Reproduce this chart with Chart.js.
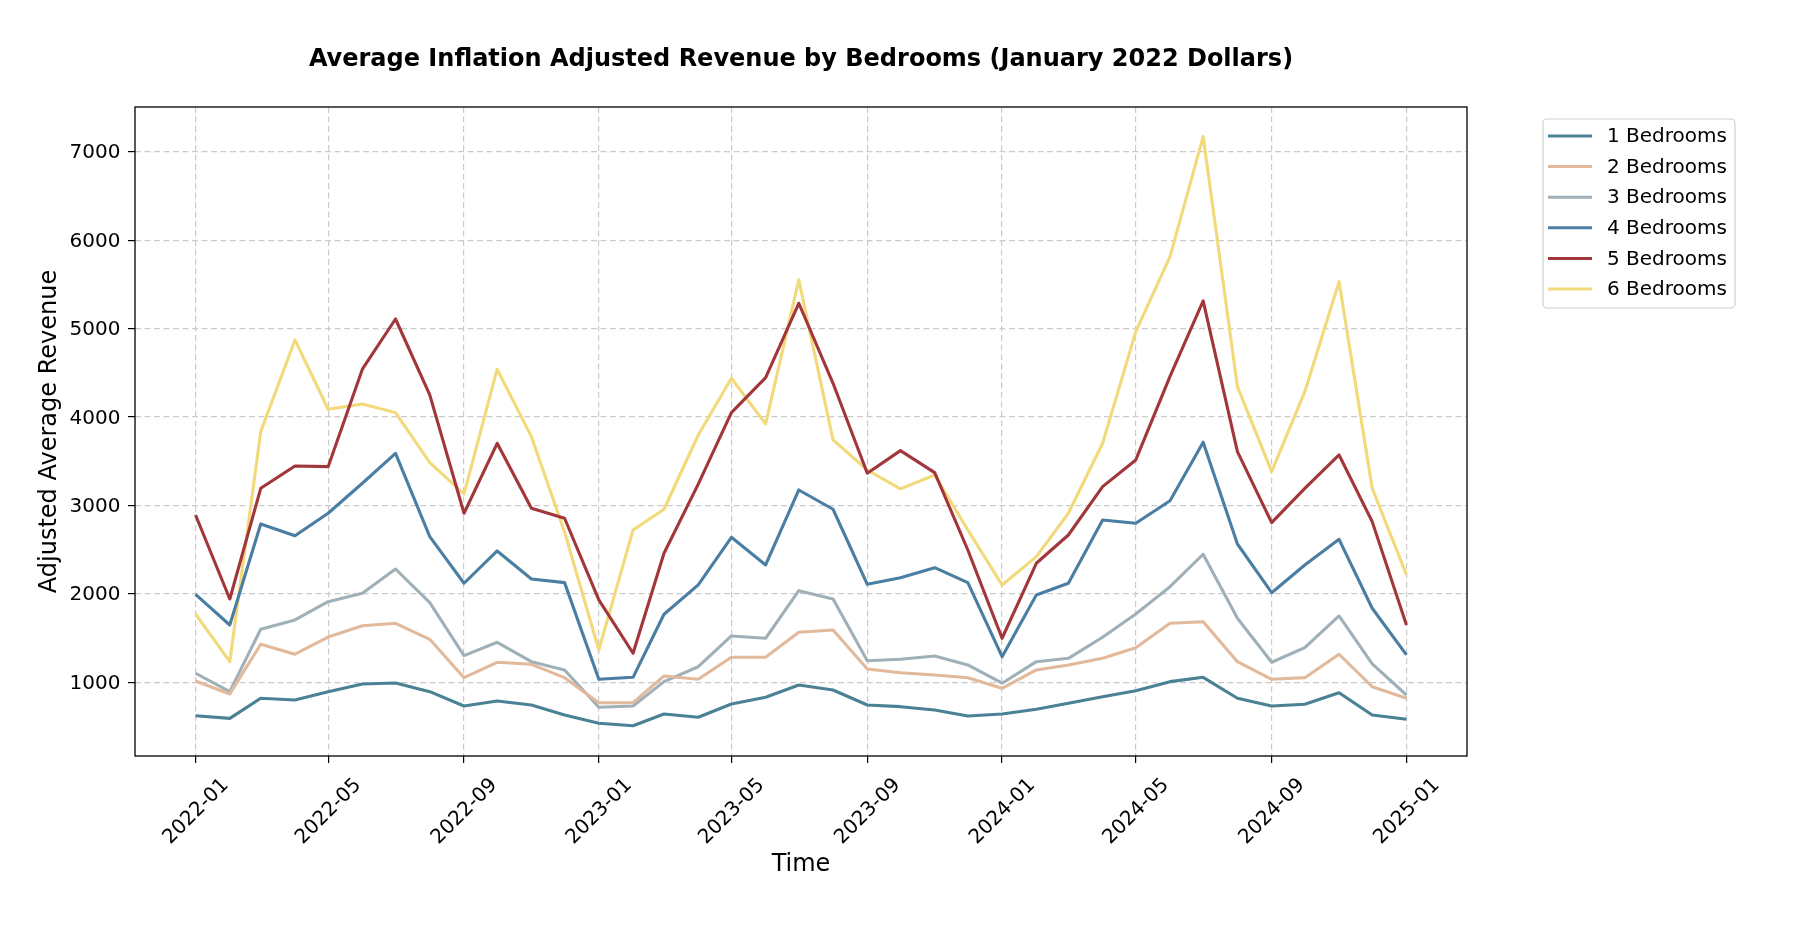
<!DOCTYPE html>
<html>
<head>
<meta charset="utf-8">
<script src="https://cdn.jsdelivr.net/npm/chart.js@4.4.6/dist/chart.umd.min.js"></script>
<style>
  html, body { margin: 0; padding: 0; background: #fff; }
</style>
</head>
<body>
<canvas id="revenue-by-bedrooms" width="1808" height="936"></canvas>
<script>
const months = [
  '2022-01', '2022-02', '2022-03', '2022-04', '2022-05', '2022-06', '2022-07', '2022-08', '2022-09', '2022-10', '2022-11', '2022-12',
  '2023-01', '2023-02', '2023-03', '2023-04', '2023-05', '2023-06', '2023-07', '2023-08', '2023-09', '2023-10', '2023-11', '2023-12',
  '2024-01', '2024-02', '2024-03', '2024-04', '2024-05', '2024-06', '2024-07', '2024-08', '2024-09', '2024-10', '2024-11', '2024-12',
  '2025-01'
]
const xTickLabels = ['2022-01', '2022-05', '2022-09', '2023-01', '2023-05', '2023-09', '2024-01', '2024-05', '2024-09', '2025-01']
const yTickValues = [1000, 2000, 3000, 4000, 5000, 6000, 7000]

const seriesNames = ['1 Bedrooms', '2 Bedrooms', '3 Bedrooms', '4 Bedrooms', '5 Bedrooms', '6 Bedrooms']
const oneBedroom = [621, 591, 818, 799, 893, 980, 991, 893, 731, 787, 742, 629, 535, 508, 640, 603, 753, 829, 968, 912, 742, 723, 686, 618, 640, 693, 761, 836, 904, 1006, 1055, 818, 731, 750, 881, 629, 580]
const twoBedroom = [1014, 867, 1429, 1316, 1511, 1639, 1666, 1485, 1051, 1225, 1202, 1051, 768, 768, 1070, 1033, 1282, 1282, 1564, 1590, 1149, 1107, 1081, 1051, 931, 1138, 1195, 1270, 1390, 1666, 1684, 1232, 1033, 1051, 1316, 949, 818]
const threeBedroom = [1101, 893, 1598, 1704, 1911, 2006, 2280, 1899, 1300, 1451, 1232, 1138, 716, 731, 1006, 1175, 1523, 1497, 2035, 1941, 1243, 1259, 1296, 1195, 988, 1232, 1270, 1508, 1771, 2080, 2447, 1723, 1225, 1390, 1749, 1206, 855]
const fourBedroom = [1994, 1647, 2790, 2657, 2911, 3250, 3589, 2646, 2119, 2484, 2167, 2126, 1033, 1055, 1768, 2100, 2639, 2326, 3174, 2956, 2107, 2182, 2295, 2126, 1288, 1986, 2119, 2835, 2797, 3053, 3714, 2563, 2012, 2326, 2616, 1836, 1308]
const fiveBedroom = [2891, 1941, 3193, 3446, 3438, 4540, 5108, 4249, 2911, 3702, 2967, 2854, 1930, 1327, 2458, 3240, 4049, 4445, 5286, 4381, 3363, 3619, 3370, 2495, 1497, 2345, 2665, 3212, 3514, 4460, 5312, 3607, 2804, 3193, 3570, 2816, 1647]
const sixBedroom = [1771, 1232, 3834, 4871, 4087, 4147, 4049, 3483, 3129, 4540, 3777, 2700, 1364, 2722, 2956, 3796, 4438, 3921, 5550, 3740, 3400, 3186, 3344, 2722, 2100, 2420, 2911, 3702, 4965, 5813, 7171, 4343, 3381, 4286, 5530, 3193, 2213]

const seriesColors = ['#4b8194', '#e2b99b', '#a0b0b9', '#4a7ea3', '#a1363b', '#f2d97a']

const FONT = "'DejaVu Sans', 'Liberation Sans', sans-serif"

// days since 2022-01-01, so months sit where a date axis would put them
const dayIndex = (label) => {
  const [y, m] = label.split('-').map(Number)
  return (Date.UTC(y, m - 1, 1) - Date.UTC(2022, 0, 1)) / 86400000
}

const toPoints = (values) => values.map((v, i) => ({ x: dayIndex(months[i]), y: v }))

const axesFrame = {
  id: 'axesFrame',
  afterDatasetsDraw(chart) {
    const { ctx, chartArea: a } = chart
    ctx.save()
    ctx.strokeStyle = '#000'
    ctx.lineWidth = 1.3
    ctx.strokeRect(a.left, a.top, a.right - a.left, a.bottom - a.top)
    ctx.restore()
  }
}

const sideLegend = {
  id: 'sideLegend',
  afterDraw(chart) {
    const { ctx, chartArea: a } = chart
    const x0 = a.right + 76
    const y0 = a.top + 12
    const w = 192
    const h = 189
    const r = 4

    ctx.save()
    ctx.beginPath()
    ctx.moveTo(x0 + r, y0)
    ctx.arcTo(x0 + w, y0, x0 + w, y0 + h, r)
    ctx.arcTo(x0 + w, y0 + h, x0, y0 + h, r)
    ctx.arcTo(x0, y0 + h, x0, y0, r)
    ctx.arcTo(x0, y0, x0 + w, y0, r)
    ctx.closePath()
    ctx.fillStyle = 'rgba(255,255,255,0.8)'
    ctx.fill()
    ctx.strokeStyle = '#d0d0d0'
    ctx.lineWidth = 1.2
    ctx.stroke()

    ctx.font = `20px ${FONT}`
    ctx.textBaseline = 'middle'
    ctx.textAlign = 'left'
    chart.data.datasets.forEach((ds, i) => {
      const y = y0 + 17 + i * 30.6
      ctx.strokeStyle = ds.borderColor
      ctx.lineWidth = 3
      ctx.beginPath()
      ctx.moveTo(x0 + 5, y)
      ctx.lineTo(x0 + 49, y)
      ctx.stroke()
      ctx.fillStyle = '#000'
      ctx.fillText(ds.label, x0 + 64, y + 1)
    })
    ctx.restore()
  }
}

const seriesValues = [oneBedroom, twoBedroom, threeBedroom, fourBedroom, fiveBedroom, sixBedroom]

new Chart(document.getElementById('revenue-by-bedrooms'), {
  type: 'line',
  data: {
    datasets: seriesValues.map((values, i) => ({
      label: seriesNames[i],
      data: toPoints(values),
      borderColor: seriesColors[i],
      backgroundColor: seriesColors[i],
      borderWidth: 3.1,
      borderJoinStyle: 'round',
      pointRadius: 0,
      tension: 0,
      fill: false
    }))
  },
  options: {
    responsive: false,
    animation: false,
    layout: { padding: { left: 0, right: 341, top: 0, bottom: 0 } },
    plugins: {
      legend: { display: false },
      tooltip: { enabled: false },
      title: {
        display: true,
        text: 'Average Inflation Adjusted Revenue by Bedrooms (January 2022 Dollars)',
        color: '#000',
        font: { family: FONT, size: 24, weight: 'bold' },
        padding: { top: 45.5, bottom: 32.7 },
        fullSize: false
      }
    },
    scales: {
      x: {
        type: 'linear',
        min: -54.8,
        max: 1150.8,
        afterBuildTicks: (scale) => {
          scale.ticks = xTickLabels.map((l) => ({ value: dayIndex(l) }))
        },
        afterFit: (scale) => {
          scale.height = 180
        },
        ticks: {
          autoSkip: false,
          minRotation: 45,
          maxRotation: 45,
          labelOffset: 30,
          padding: 10.5,
          color: '#000',
          font: { family: FONT, size: 20 },
          callback: (value, index) => xTickLabels[index]
        },
        grid: {
          color: '#cbcbcb',
          lineWidth: 1.2,
          tickLength: 7,
          tickColor: '#000',
          tickWidth: 1.2,
          tickBorderDash: []
        },
        border: { display: false, dash: [6, 3.5] },
        title: {
          display: true,
          text: 'Time',
          color: '#000',
          font: { family: FONT, size: 24 },
          padding: { top: 0, bottom: 56.7 }
        }
      },
      y: {
        type: 'linear',
        min: 165,
        max: 7506,
        afterBuildTicks: (scale) => {
          scale.ticks = yTickValues.map((v) => ({ value: v }))
        },
        afterFit: (scale) => {
          scale.width = 135
        },
        ticks: {
          padding: 7.5,
          labelOffset: 1.5,
          color: '#000',
          font: { family: FONT, size: 20 },
          callback: (value) => String(value)
        },
        grid: {
          color: '#cbcbcb',
          lineWidth: 1.2,
          tickLength: 7,
          tickColor: '#000',
          tickWidth: 1.2,
          tickBorderDash: []
        },
        border: { display: false, dash: [6, 3.5] },
        title: {
          display: true,
          text: 'Adjusted Average Revenue',
          color: '#000',
          font: { family: FONT, size: 24 },
          padding: { top: 35, bottom: 0 }
        }
      }
    }
  },
  plugins: [axesFrame, sideLegend]
})
</script>
</body>
</html>
